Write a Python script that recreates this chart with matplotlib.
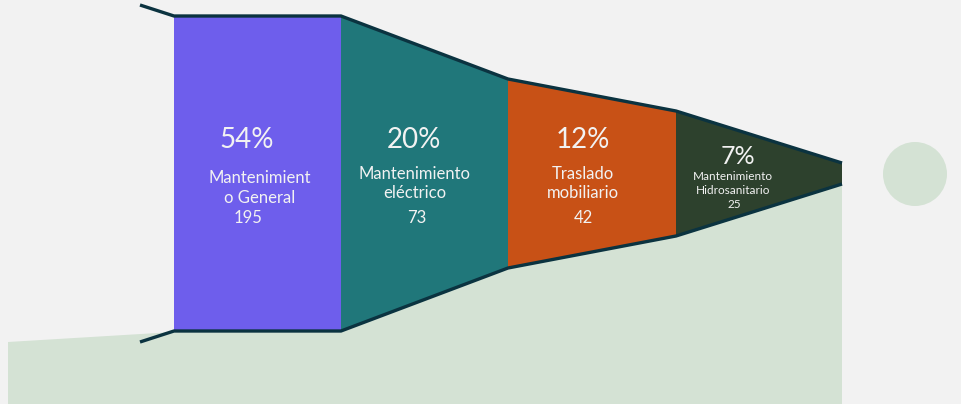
import matplotlib.pyplot as plt
from matplotlib.patches import Polygon, Circle

# data
categories = ["Mantenimiento General", "Mantenimiento eléctrico", "Traslado mobiliario", "Mantenimiento Hidrosanitario"]
label_lines = [["Mantenimient", "o General"], ["Mantenimiento", "eléctrico"], ["Traslado", "mobiliario"], ["Mantenimiento", "Hidrosanitario"]]
counts = [195, 73, 42, 25]
percents = [54, 20, 12, 7]

# layout (pixel space)
W, H = 962, 404
edges_x = [174, 341, 508, 676, 842]
half_h = [157.5, 157.5, 94.5, 62.5, 10.5]
mid_y = 173.5
colors = ["#6E5EEC", "#20777A", "#C85116", "#2D412D"]
outline = "#0B3340"
light_green = "#D4E2D4"
bg = "#F2F2F2"

fig = plt.figure(figsize=(W / 100, H / 100), dpi=100, facecolor=bg)
ax = fig.add_axes([0, 0, 1, 1])
ax.set_xlim(0, W)
ax.set_ylim(H, 0)
ax.axis("off")
ax.set_facecolor(bg)

top = [mid_y - h for h in half_h]
bot = [mid_y + h for h in half_h]

# light green base area
base = [(8, 342), (edges_x[0], bot[0] + 1)] + list(zip(edges_x, bot)) + [(edges_x[-1], H), (8, H)]
ax.add_patch(Polygon(base, closed=True, facecolor=light_green, edgecolor="none", zorder=1))

# decorative circle
ax.add_patch(Circle((915, 174), 32, facecolor=light_green, edgecolor="none", zorder=1))

# funnel segments
for i in range(len(counts)):
    pts = [(edges_x[i], top[i]), (edges_x[i + 1], top[i + 1]),
           (edges_x[i + 1], bot[i + 1]), (edges_x[i], bot[i])]
    ax.add_patch(Polygon(pts, closed=True, facecolor=colors[i], edgecolor="none", zorder=2))

# outlines
ax.plot([140] + edges_x, [5] + top, color=outline, lw=2.4, zorder=3, solid_capstyle="butt")
ax.plot([140] + edges_x, [342] + bot, color=outline, lw=2.4, zorder=3, solid_capstyle="butt")

# labels
fam = ["Lato", "DejaVu Sans"]
txt = "#F2F2F2"
pct_pos = [(247, 140), (414, 140), (583, 140), (738, 157)]
line_pos = [[(260, 178), (260, 198)], [(415, 174), (415, 193)], [(583, 174), (583, 193)], [(733, 176), (733, 190)]]
num_pos = [(248, 218), (417, 218), (583, 218), (734, 205)]
pct_size = [20, 20, 20, 18]
lab_size = [12, 12, 12, 8.5]

for i in range(len(counts)):
    ax.text(*pct_pos[i], f"{percents[i]}%", color=txt, fontsize=pct_size[i], family=fam,
            ha="center", va="center", zorder=4)
    for line, (x, y) in zip(label_lines[i], line_pos[i]):
        ax.text(x, y, line, color=txt, fontsize=lab_size[i], family=fam,
                ha="center", va="center", zorder=4)
    ax.text(*num_pos[i], str(counts[i]), color=txt, fontsize=lab_size[i], family=fam,
            ha="center", va="center", zorder=4)

fig.savefig("out.png", dpi=100, facecolor=bg)
